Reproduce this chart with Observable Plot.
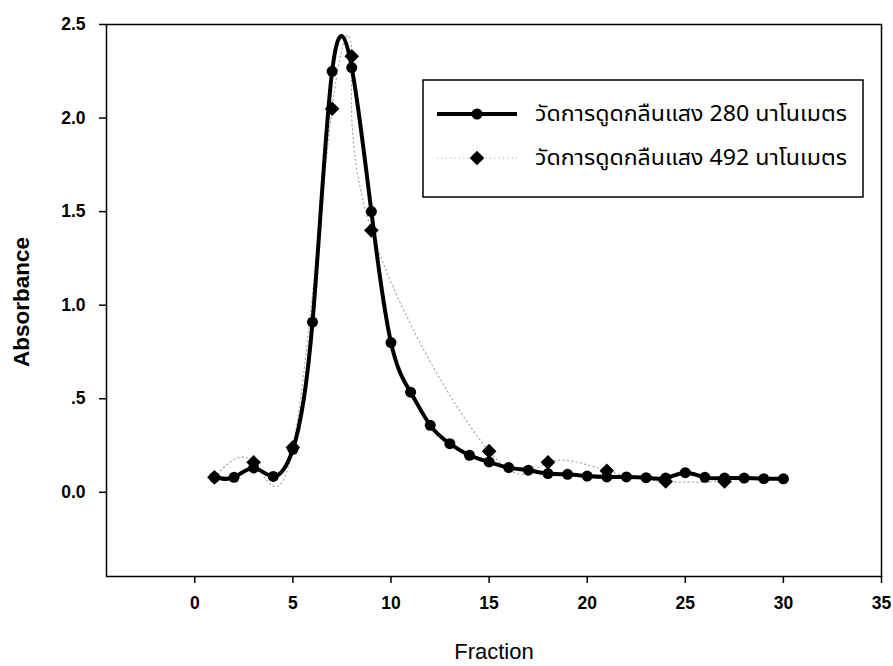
<!DOCTYPE html>
<html><head><meta charset="utf-8">
<script src="https://cdn.jsdelivr.net/npm/d3@7"></script>
<script src="https://cdn.jsdelivr.net/npm/@observablehq/plot@0.6"></script>
<style>body{margin:0;background:#fff} svg{display:block}</style>
</head><body><div id="chart"></div>
<script>
const fraction280 = [1,2,3,4,5,6,7,8,9,10,11,12,13,14,15,16,17,18,19,20,21,22,23,24,25,26,27,28,29,30];
const abs280 = [0.08,0.08,0.13,0.085,0.23,0.91,2.25,2.27,1.50,0.80,0.535,0.358,0.26,0.198,0.162,0.132,0.118,0.10,0.096,0.087,0.082,0.082,0.078,0.076,0.105,0.08,0.076,0.076,0.073,0.072];
const fraction492 = [1,3,5,7,8,9,15,18,21,24,27];
const abs492 = [0.08,0.16,0.24,2.05,2.33,1.40,0.22,0.16,0.115,0.058,0.058];
const xTicks = [0,5,10,15,20,25,30,35];
const yTicks = [0,0.5,1,1.5,2,2.5];
const yTickLabels = ["0.0",".5","1.0","1.5","2.0","2.5"];
const seriesLabels = ["วัดการดูดกลืนแสง 280 นาโนเมตร","วัดการดูดกลืนแสง 492 นาโนเมตร"];
const xTitle = "Fraction", yTitle = "Absorbance";

const s280 = fraction280.map((f,i)=>({f, v:abs280[i]}));
const s492 = fraction492.map((f,i)=>({f, v:abs492[i]}));

const chart = Plot.plot({
  width: 893, height: 666,
  marginLeft: 106, marginRight: 12, marginTop: 24, marginBottom: 90,
  style: {background: "#fff", color: "#000", fontFamily: "Arial, 'Liberation Sans', sans-serif"},
  x: {domain: [-4.5, 35], label: null},
  y: {domain: [-0.45, 2.5], label: null},
  marks: [
    Plot.line(s492, {x: "f", y: "v", curve: "natural", stroke: "#a8a8a8", strokeWidth: 1.2, strokeDasharray: "1.2,3.2"}),
    Plot.line(s280, {x: "f", y: "v", curve: "natural", stroke: "#000", strokeWidth: 4}),
    Plot.dot(s280, {x: "f", y: "v", r: 5.5, fill: "#000", stroke: "none"}),
    Plot.dot(s492, {x: "f", y: "v", r: 6.6, symbol: "diamond2", fill: "#000", stroke: "none"}),
    Plot.frame({stroke: "#000", strokeWidth: 1.5}),
    Plot.axisX({ticks: xTicks, tickSize: 7, tickPadding: 13, strokeWidth: 1.5, label: null}),
    Plot.axisY({ticks: yTicks, tickSize: 7, tickPadding: 14, strokeWidth: 1.5, label: null,
      tickFormat: d => yTickLabels[yTicks.indexOf(d)]})
  ]
});
document.getElementById("chart").appendChild(chart);

const svg = d3.select(chart);
svg.selectAll("text")
  .style("font-size", "17.5px").style("font-weight", "bold")
  .style("font-family", "Arial, 'Liberation Sans', sans-serif");

// axis titles
svg.append("text").attr("x", 494).attr("y", 659).attr("text-anchor", "middle").attr("font-weight", "normal")
  .attr("font-family", "Arial, 'Liberation Sans', sans-serif").attr("font-size", 22).text(xTitle);
svg.append("text").attr("transform", "translate(29,302) rotate(-90)").attr("text-anchor", "middle")
  .attr("font-family", "Arial, 'Liberation Sans', sans-serif").attr("font-size", 22.5).attr("font-weight", "bold").text(yTitle);

// legend
const lg = svg.append("g");
lg.append("rect").attr("x", 423).attr("y", 80).attr("width", 440).attr("height", 117)
  .attr("fill", "#fff").attr("stroke", "#000").attr("stroke-width", 1.5);
const rows = [114, 158];
lg.append("line").attr("x1", 437).attr("x2", 517).attr("y1", rows[0]).attr("y2", rows[0]).attr("stroke", "#000").attr("stroke-width", 4);
lg.append("circle").attr("cx", 477).attr("cy", rows[0]).attr("r", 5.5).attr("fill", "#000");
lg.append("line").attr("x1", 437).attr("x2", 517).attr("y1", rows[1]).attr("y2", rows[1]).attr("stroke", "#a8a8a8").attr("stroke-width", 1.2).attr("stroke-dasharray", "1.2,3.2");
lg.append("path").attr("transform", `translate(477,${rows[1]})`).attr("d", d3.symbol(d3.symbolDiamond2, Math.PI*6.6*6.6)()).attr("fill", "#000");
seriesLabels.forEach((t, i) => {
  lg.append("text").attr("x", 535).attr("y", rows[i]).attr("dy", "0.35em").attr("text-anchor", "start").attr("font-weight", "normal")
    .attr("textLength", 312).attr("lengthAdjust", "spacingAndGlyphs")
    .attr("font-family", "'Noto Sans Thai', 'Leelawadee UI', Tahoma, 'Noto Sans', sans-serif").attr("font-size", 21).text(t);
});
</script></body></html>
